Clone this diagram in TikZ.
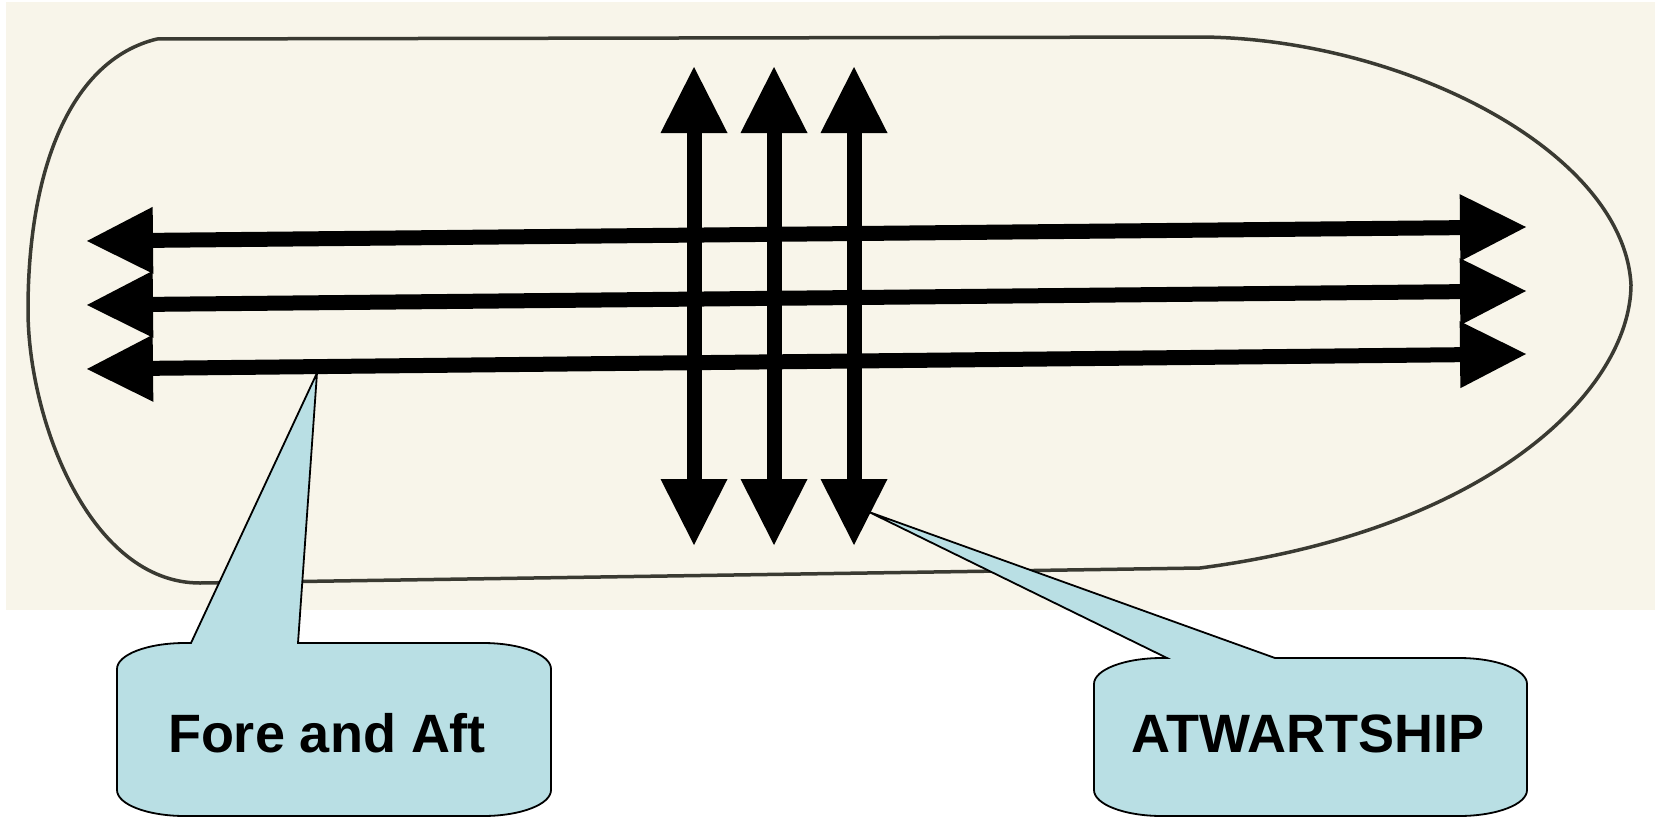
\documentclass[tikz,border=0pt]{standalone}
\usepackage{fontspec}
\setmainfont{Liberation Sans}
\usetikzlibrary{arrows.meta}
\definecolor{cream}{HTML}{F8F5EA}
\definecolor{hullc}{HTML}{3A3A32}
\definecolor{callfill}{HTML}{B9DFE4}
\tikzset{
  dblarrow/.style={line width=15pt,
    {Triangle[length=66pt,width=67pt,line width=0pt]}-{Triangle[length=66pt,width=67pt,line width=0pt]}},
  hull/.style={draw=hullc, line width=3.5pt, line join=round},
  callout/.style={draw=black, fill=callfill, line width=1.8pt, line join=miter},
  lbl/.style={font=\fontsize{54}{62}\selectfont\bfseries, inner sep=0pt, anchor=base},
}
\begin{document}
\begin{tikzpicture}[x=1pt,y=-1pt]
\useasboundingbox (0,0) rectangle (1661,819);
\fill[white] (0,0) rectangle (1661,819);
\fill[cream] (6,2) rectangle (1655,610);
% hull outline
\draw[hull] (157,39) -- (1200,37) .. controls (1400,38) and (1624,150) .. (1631,285)
  .. controls (1630,390) and (1490,530) .. (1200,568) -- (200,583)
  .. controls (90,583) and (28,420) .. (28,310)
  .. controls (28,170) and (70,60) .. (157,39) -- cycle;
% fore and aft arrows
\coordinate (f1l) at (87,241);  \coordinate (f1r) at (1526,227);
\coordinate (f2l) at (87,305);  \coordinate (f2r) at (1526,291);
\coordinate (f3l) at (87,369);  \coordinate (f3r) at (1526,354);
\draw[dblarrow] (f1l) -- (f1r);
\draw[dblarrow] (f2l) -- (f2r);
\draw[dblarrow] (f3l) -- (f3r);
% athwartship arrows
\coordinate (a1t) at (694,67);  \coordinate (a1b) at (694,545);
\coordinate (a2t) at (774,67);  \coordinate (a2b) at (774,545);
\coordinate (a3t) at (854,67);  \coordinate (a3b) at (854,545);
\draw[dblarrow] (a1t) -- (a1b);
\draw[dblarrow] (a2t) -- (a2b);
\draw[dblarrow] (a3t) -- (a3b);
% callouts
\coordinate (faTip) at (317,373);
\coordinate (atTip) at (869,512);
\draw[callout] (191,643) -- (faTip) -- (298,643) -- (483,643)
  .. controls (520.5,643) and (551,654.6) .. (551,669) -- (551,790)
  .. controls (551,804.4) and (520.5,816) .. (483,816) -- (185,816)
  .. controls (147.5,816) and (117,804.4) .. (117,790) -- (117,669)
  .. controls (117,654.6) and (147.5,643) .. (185,643) -- cycle;
\draw[callout] (1167,658) -- (atTip) -- (1275,658) -- (1459,658)
  .. controls (1496.5,658) and (1527,669.6) .. (1527,684) -- (1527,790)
  .. controls (1527,804.4) and (1496.5,816) .. (1459,816) -- (1162,816)
  .. controls (1124.5,816) and (1094,804.4) .. (1094,790) -- (1094,684)
  .. controls (1094,669.6) and (1124.5,658) .. (1162,658) -- cycle;
\node[lbl] (fa) at (327,752) {Fore and Aft};
\node[lbl] (at) at (1308,752) {ATWARTSHIP};
\end{tikzpicture}
\end{document}
